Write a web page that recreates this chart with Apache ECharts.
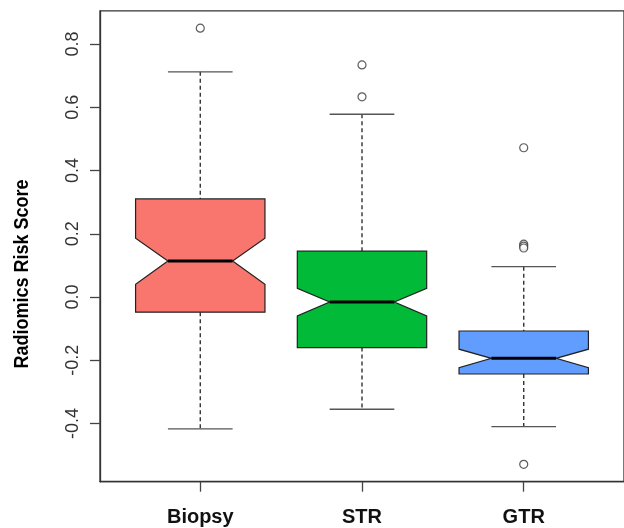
<!DOCTYPE html>
<html>
<head>
<meta charset="utf-8">
<script src="https://cdn.jsdelivr.net/npm/echarts@6/dist/echarts.min.js"></script>
<style>
html,body{margin:0;padding:0;background:#fff;}
#c{width:624px;height:528px;}
</style>
</head>
<body>
<div id="c"></div>
<script>
const categories = ['Biopsy', 'STR', 'GTR'];
const lowerWhisker = [-0.417, -0.355, -0.410];
const q1 = [-0.048, -0.160, -0.2435];
const notchLow = [0.040, -0.060, -0.2235];
const median = [0.114, -0.016, -0.194];
const notchHigh = [0.186, 0.0275, -0.165];
const q3 = [0.310, 0.145, -0.1075];
const upperWhisker = [0.712, 0.578, 0.096];
const outliers = [[0.850], [0.734, 0.633], [0.472, 0.167, 0.161, 0.155, -0.529]];
const yTicks = [-0.4, -0.2, 0.0, 0.2, 0.4, 0.6, 0.8];
const xTicks = [1, 2, 3];
const yTitle = 'Radiomics Risk Score';

const X_MIN = 0.38, X_MAX = 3.62, Y_MIN = -0.584, Y_MAX = 0.905;
const GRID_TOP = 10.8, GRID_BOTTOM = 46.3, CH = 528;
const fills = ['#F8766D', '#00BA38', '#619CFF'];

const boxData = categories.map((c, i) => [i + 1, lowerWhisker[i], q1[i], notchLow[i], median[i], notchHigh[i], q3[i], upperWhisker[i]]);
const outlierData = [];
outliers.forEach((arr, i) => arr.forEach(v => outlierData.push([i + 1, v])));

// second grid aligned to the same vertical scale, only for y tick marks
const plotH = CH - GRID_TOP - GRID_BOTTOM;
const tMin = yTicks[0], tMax = yTicks[yTicks.length - 1];
const top2 = GRID_TOP + (Y_MAX - tMax) / (Y_MAX - Y_MIN) * plotH;
const bottom2 = GRID_BOTTOM + (tMin - Y_MIN) / (Y_MAX - Y_MIN) * plotH;

function renderItem(params, api) {
  const x = api.value(0);
  const lw = api.value(1), a = api.value(2), nl = api.value(3), md = api.value(4), nh = api.value(5), b = api.value(6), uw = api.value(7);
  const half = 0.4, nhalf = 0.2, cap = 0.2;
  const p = (dx, v) => api.coord([x + dx, v]);
  const whisk = { stroke: '#333', lineWidth: 1.4, lineDash: [4, 3] };
  const capStyle = { stroke: '#555', lineWidth: 1.4 };
  const pts = [p(-half, b), p(half, b), p(half, nh), p(nhalf, md), p(half, nl), p(half, a), p(-half, a), p(-half, nl), p(-nhalf, md), p(-half, nh)];
  const m1 = p(-nhalf, md), m2 = p(nhalf, md);
  const c0 = p(0, uw), c1 = p(0, b), c2 = p(0, a), c3 = p(0, lw);
  const u1 = p(-cap, uw), u2 = p(cap, uw), l1 = p(-cap, lw), l2 = p(cap, lw);
  return {
    type: 'group',
    children: [
      { type: 'line', shape: { x1: c0[0], y1: c0[1], x2: c1[0], y2: c1[1] }, style: whisk },
      { type: 'line', shape: { x1: c2[0], y1: c2[1], x2: c3[0], y2: c3[1] }, style: whisk },
      { type: 'line', shape: { x1: u1[0], y1: u1[1], x2: u2[0], y2: u2[1] }, style: capStyle },
      { type: 'line', shape: { x1: l1[0], y1: l1[1], x2: l2[0], y2: l2[1] }, style: capStyle },
      { type: 'polygon', shape: { points: pts }, style: { fill: fills[params.dataIndex], stroke: '#222', lineWidth: 1.2 } },
      { type: 'line', shape: { x1: m1[0], y1: m1[1], x2: m2[0], y2: m2[1] }, style: { stroke: '#000', lineWidth: 3 } }
    ]
  };
}

const chart = echarts.init(document.getElementById('c'), null, { renderer: 'canvas' });
chart.setOption({
  animation: false,
  backgroundColor: '#fff',
  grid: [
    { left: 100, top: GRID_TOP, right: -3, bottom: GRID_BOTTOM, show: true, borderColor: '#333', borderWidth: 1.3, backgroundColor: 'transparent' },
    { left: 100, top: top2, right: -3, bottom: bottom2, show: false }
  ],
  xAxis: [{
    type: 'value', min: X_MIN, max: X_MAX, gridIndex: 0,
    splitLine: { show: false },
    axisLine: { show: true, onZero: false, lineStyle: { color: '#333', width: 1.3 } },
    axisTick: { show: true, inside: false, length: 10, lineStyle: { color: '#444', width: 1.3 }, customValues: xTicks },
    axisLabel: {
      customValues: xTicks,
      formatter: v => categories[Math.round(v) - 1] || '',
      margin: 26, fontFamily: 'Liberation Sans', fontWeight: 'bold', fontSize: 20, color: '#111'
    }
  }, {
    type: 'value', min: X_MIN, max: X_MAX, gridIndex: 1, show: false
  }],
  yAxis: [{
    type: 'value', min: Y_MIN, max: Y_MAX, gridIndex: 0,
    splitLine: { show: false },
    axisLine: { show: true, onZero: false, lineStyle: { color: '#333', width: 1.3 } },
    axisTick: { show: false },
    axisLabel: {
      customValues: yTicks,
      formatter: v => v.toFixed(1),
      rotate: 90, margin: 18, fontFamily: 'Liberation Sans', fontSize: 18, color: '#333'
    }
  }, {
    type: 'value', min: tMin, max: tMax, interval: 0.2, gridIndex: 1,
    splitLine: { show: false },
    axisLine: { show: false, onZero: false },
    axisTick: { show: true, inside: false, length: 10, lineStyle: { color: '#444', width: 1.3 } },
    axisLabel: { show: false }
  }],
  graphic: [{
    type: 'text', x: 22, y: 274, rotation: Math.PI / 2, scaleY: 1.12,
    style: { text: yTitle, font: 'bold 18px "Liberation Sans"', fill: '#000', textAlign: 'center', textVerticalAlign: 'middle' }
  }],
  series: [
    { type: 'custom', renderItem: renderItem, data: boxData, encode: { x: 0, y: [1, 7] }, clip: false, xAxisIndex: 0, yAxisIndex: 0 },
    { type: 'scatter', data: outlierData, symbol: 'circle', symbolSize: 8, xAxisIndex: 0, yAxisIndex: 0, itemStyle: { color: '#fff', borderColor: '#333', borderWidth: 1.2 }, z: 5 }
  ]
});
</script>
</body>
</html>
